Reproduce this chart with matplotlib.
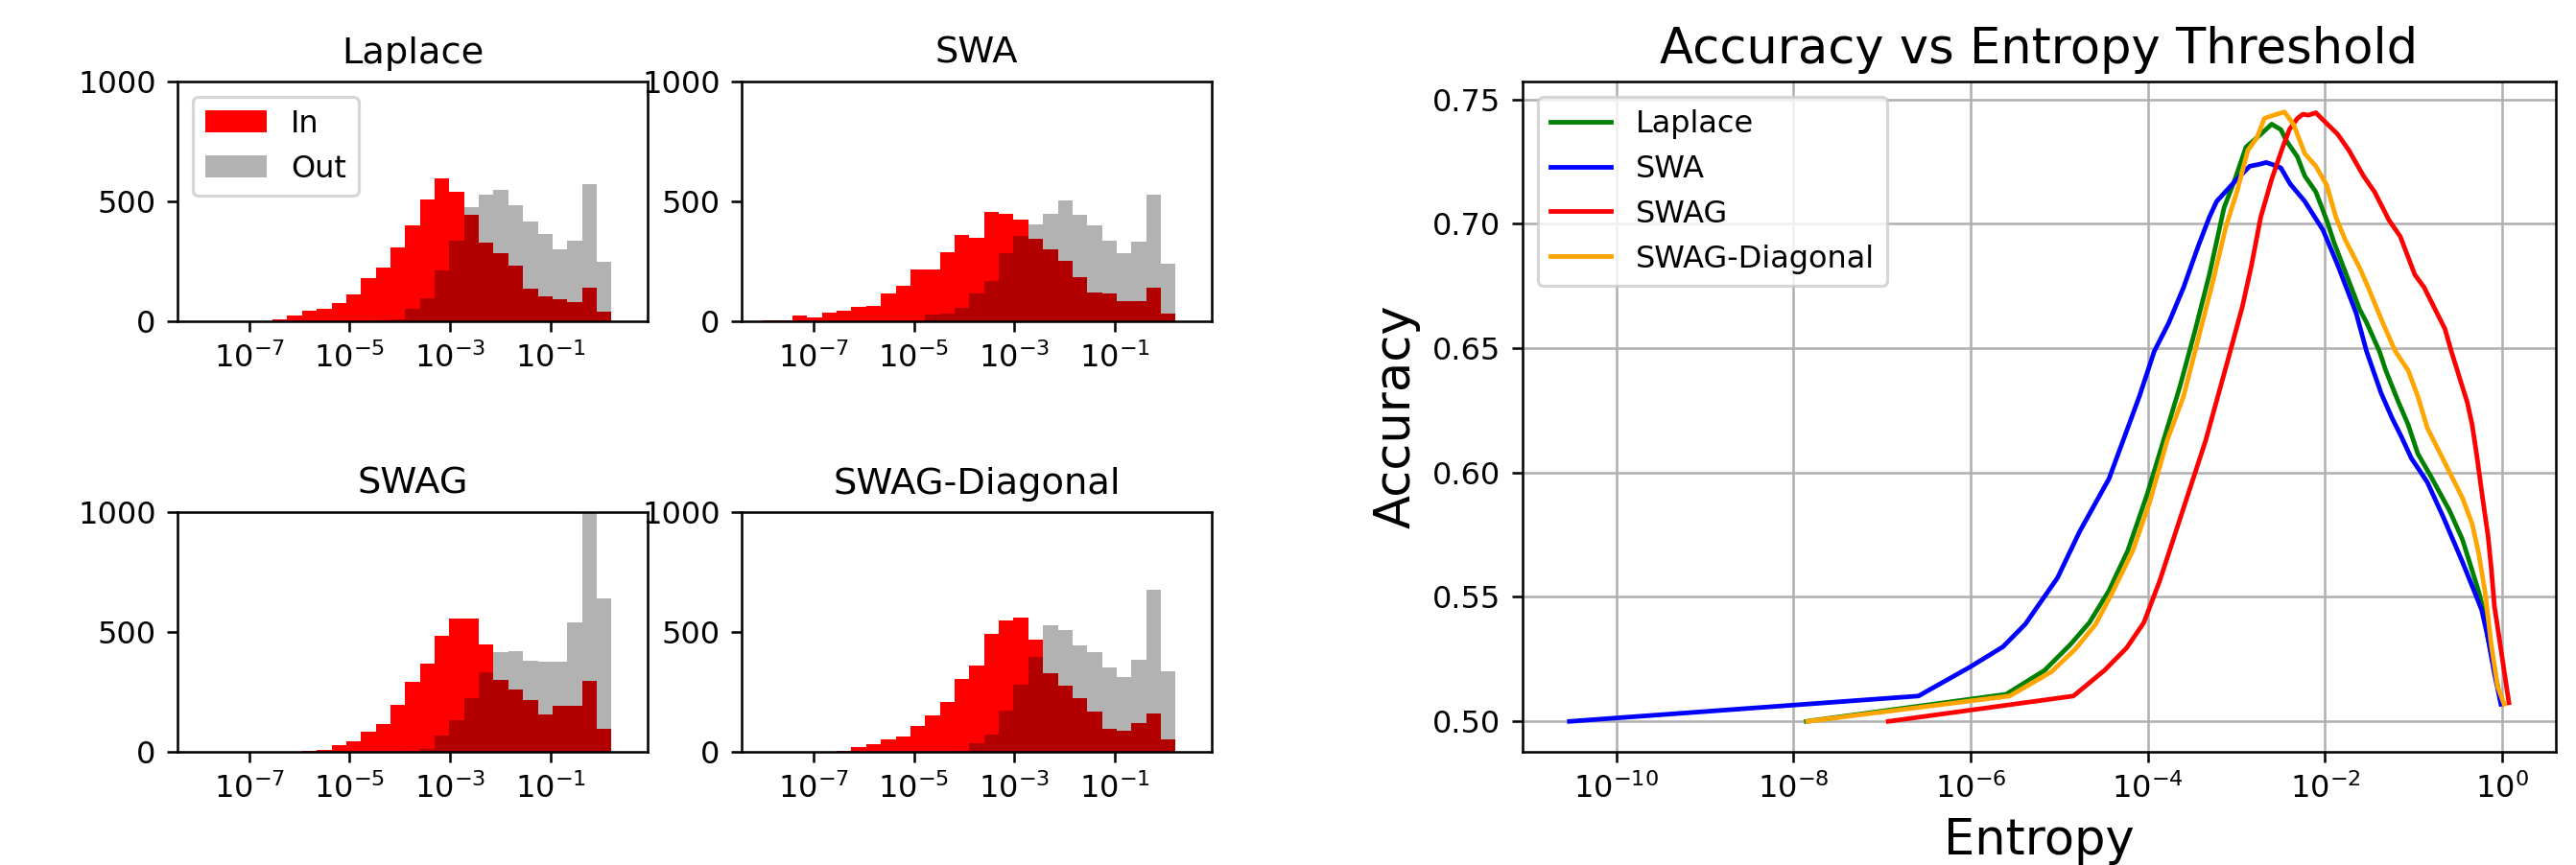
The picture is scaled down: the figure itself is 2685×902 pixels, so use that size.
import numpy as np
import matplotlib
matplotlib.use('Agg')
import matplotlib.pyplot as plt
from matplotlib.ticker import NullLocator

methods = ['Laplace', 'SWA', 'SWAG', 'SWAG-Diagonal']
colors = ['green', 'blue', 'red', 'orange']

# 29 log-spaced entropy bins between 1e-8 and 10**0.5
bin_edges = np.logspace(-8, 0.5, 30)

# histogram counts per bin (in-distribution / out-of-distribution)
laplace_in = [0, 0, 0, 0, 0, 8, 25, 44, 52, 76, 112, 179, 225, 309, 399, 506, 594, 538,
              442, 327, 285, 233, 137, 104, 92, 80, 141, 40, 0]
laplace_out = [0, 0, 0, 0, 0, 0, 0, 0, 0, 0, 0, 0, 4, 9, 52, 96, 210, 337, 475, 526,
               546, 482, 414, 365, 301, 337, 570, 249, 0]
swa_in = [3, 3, 24, 15, 36, 43, 60, 64, 116, 149, 217, 217, 286, 361, 348, 454, 446, 422,
          345, 301, 253, 185, 120, 116, 84, 84, 138, 32, 0]
swa_out = [0, 0, 0, 0, 0, 0, 0, 0, 0, 0, 0, 28, 32, 56, 116, 169, 285, 357, 402, 446,
           502, 442, 398, 337, 285, 333, 526, 241, 0]
swag_in = [0, 0, 0, 0, 0, 0, 0, 4, 9, 29, 45, 85, 117, 197, 291, 369, 485, 557, 557, 449,
           301, 261, 217, 157, 193, 193, 297, 97, 0]
swag_out = [0, 0, 0, 0, 0, 0, 0, 0, 0, 0, 0, 0, 0, 0, 4, 13, 69, 133, 225, 333, 417, 421,
            381, 377, 377, 541, 1040, 641, 0]
diag_in = [0, 0, 0, 0, 0, 4, 21, 33, 53, 65, 109, 153, 209, 305, 361, 493, 549, 561, 469,
           329, 277, 225, 169, 97, 89, 121, 161, 53, 0]
diag_out = [0, 0, 0, 0, 0, 0, 0, 0, 0, 0, 0, 0, 0, 5, 37, 73, 173, 281, 397, 529, 509,
            445, 417, 353, 313, 385, 677, 337, 0]

hist_in = [laplace_in, swa_in, swag_in, diag_in]
hist_out = [laplace_out, swa_out, swag_out, diag_out]

# accuracy vs entropy threshold (threshold given as log10 of entropy)
laplace_logent = [-7.855, -5.60, -5.166, -4.877, -4.66, -4.44, -4.227, -4.01, -3.824, -3.638,
                  -3.472, -3.306, -3.140, -3.016, -2.892, -2.726, -2.602, -2.498, -2.436,
                  -2.312, -2.229, -2.104, -1.980, -1.897, -1.731, -1.607, -1.531, -1.386,
                  -1.314, -1.170, -1.061, -0.953, -0.809, -0.592, -0.448, -0.267, -0.195,
                  -0.159, -0.087, -0.014]
laplace_acc = [0.500, 0.5109, 0.5205, 0.5308, 0.5397, 0.5525, 0.5686, 0.591, 0.6128, 0.6346,
               0.6564, 0.6795, 0.7064, 0.7179, 0.7308, 0.7359, 0.7400, 0.7378, 0.7333,
               0.7269, 0.7192, 0.7128, 0.7013, 0.6923, 0.6769, 0.6654, 0.6603, 0.6487,
               0.6410, 0.6282, 0.6192, 0.6076, 0.5987, 0.5845, 0.5730, 0.5524, 0.5422,
               0.5332, 0.5203, 0.5075]

swa_logent = [-10.53, -6.59, -6.01, -5.635, -5.383, -5.02, -4.77, -4.44, -4.28, -4.094,
              -3.928, -3.762, -3.597, -3.431, -3.306, -3.223, -3.058, -2.975, -2.850, -2.75,
              -2.664, -2.58, -2.498, -2.394, -2.229, -2.022, -1.856, -1.649, -1.531, -1.368,
              -1.242, -1.134, -1.025, -0.953, -0.845, -0.664, -0.448, -0.303, -0.231,
              -0.159, -0.087, -0.014]
swa_acc = [0.500, 0.5102, 0.5218, 0.530, 0.5391, 0.5577, 0.5763, 0.5974, 0.6128, 0.6308,
           0.6487, 0.6603, 0.6744, 0.6910, 0.7026, 0.7090, 0.7154, 0.7186, 0.7231, 0.7238,
           0.7246, 0.7236, 0.7224, 0.7160, 0.7090, 0.6974, 0.6833, 0.6641, 0.6487, 0.6320,
           0.6218, 0.6141, 0.6057, 0.6019, 0.5961, 0.5820, 0.5640, 0.5512, 0.5447,
           0.5332, 0.5191, 0.5069]

swag_logent = [-6.93, -4.84, -4.49, -4.24, -4.045, -3.867, -3.348, -3.099, -2.933, -2.830,
               -2.726, -2.602, -2.477, -2.40, -2.312, -2.25, -2.188, -2.104, -2.022, -1.856,
               -1.731, -1.566, -1.441, -1.276, -1.151, -0.986, -0.881, -0.773, -0.646,
               -0.574, -0.484, -0.394, -0.339, -0.285, -0.231, -0.159, -0.123, -0.087,
               -0.032, 0.022, 0.076]
swag_acc = [0.500, 0.5102, 0.5205, 0.5295, 0.5397, 0.5564, 0.6128, 0.6449, 0.6667, 0.6833,
            0.7026, 0.7179, 0.7308, 0.7380, 0.7423, 0.7440, 0.7436, 0.7446, 0.7417, 0.7359,
            0.7295, 0.7192, 0.7128, 0.7013, 0.6949, 0.6795, 0.6744, 0.6667, 0.6577,
            0.6487, 0.6384, 0.6282, 0.6192, 0.6064, 0.5922, 0.5743, 0.5614, 0.5460,
            0.5332, 0.5203, 0.5075]

diag_logent = [-7.84, -5.56, -5.09, -4.82, -4.59, -4.408, -4.17, -3.98, -3.783, -3.596,
               -3.431, -3.265, -3.120, -2.995, -2.871, -2.768, -2.685, -2.581, -2.457,
               -2.353, -2.229, -2.104, -1.980, -1.877, -1.773, -1.607, -1.513, -1.350,
               -1.206, -1.061, -0.953, -0.845, -0.736, -0.574, -0.448, -0.339, -0.267,
               -0.195, -0.123, -0.051, 0.022]
diag_acc = [0.500, 0.5102, 0.5199, 0.529, 0.539, 0.5513, 0.5686, 0.588, 0.6128, 0.6308,
            0.6538, 0.6769, 0.6987, 0.7128, 0.7295, 0.7346, 0.7423, 0.7436, 0.7449,
            0.7397, 0.7282, 0.7231, 0.7154, 0.7026, 0.6936, 0.6821, 0.6744, 0.6603,
            0.6487, 0.6410, 0.6307, 0.6179, 0.6102, 0.5987, 0.5897, 0.5794, 0.5678,
            0.5524, 0.5306, 0.5139, 0.5069]

curve_logent = [laplace_logent, swa_logent, swag_logent, diag_logent]
curve_acc = [laplace_acc, swa_acc, swag_acc, diag_acc]


DPI = 230
fig = plt.figure(figsize=(2685 / DPI, 902 / DPI), dpi=DPI)

hist_boxes = [
    [0.0689, 0.6286, 0.1825, 0.2772],
    [0.2879, 0.6286, 0.1825, 0.2772],
    [0.0689, 0.1308, 0.1825, 0.2772],
    [0.2879, 0.1308, 0.1825, 0.2772],
]
centers = np.sqrt(bin_edges[:-1] * bin_edges[1:])

for i, name in enumerate(methods):
    ax = fig.add_axes(hist_boxes[i])
    ax.hist(centers, bins=bin_edges, weights=hist_in[i], color='red', label='In')
    ax.hist(centers, bins=bin_edges, weights=hist_out[i], color='k', alpha=0.3, label='Out')
    ax.set_xscale('log')
    ax.set_xticks([1e-7, 1e-5, 1e-3, 1e-1])
    ax.xaxis.set_minor_locator(NullLocator())
    ax.set_ylim(0, 1000)
    ax.set_yticks([0, 500, 1000])
    ax.set_title(name)
    if i == 0:
        ax.legend(loc='upper left')

# accuracy vs entropy threshold
ax = fig.add_axes([0.591, 0.1308, 0.4012, 0.775])
for name, c, le, acc in zip(methods, colors, curve_logent, curve_acc):
    ax.plot(10 ** np.array(le), acc, color=c, lw=1.5, label=name)
ax.set_xscale('log')
ax.set_xticks([1e-10, 1e-8, 1e-6, 1e-4, 1e-2, 1e0])
ax.xaxis.set_minor_locator(NullLocator())
ax.grid(True)
ax.legend(loc='upper left')
ax.set_title('Accuracy vs Entropy Threshold', fontsize=16)
ax.set_xlabel('Entropy', fontsize=16)
ax.set_ylabel('Accuracy', fontsize=16)

fig.savefig('out.png', dpi=DPI)
